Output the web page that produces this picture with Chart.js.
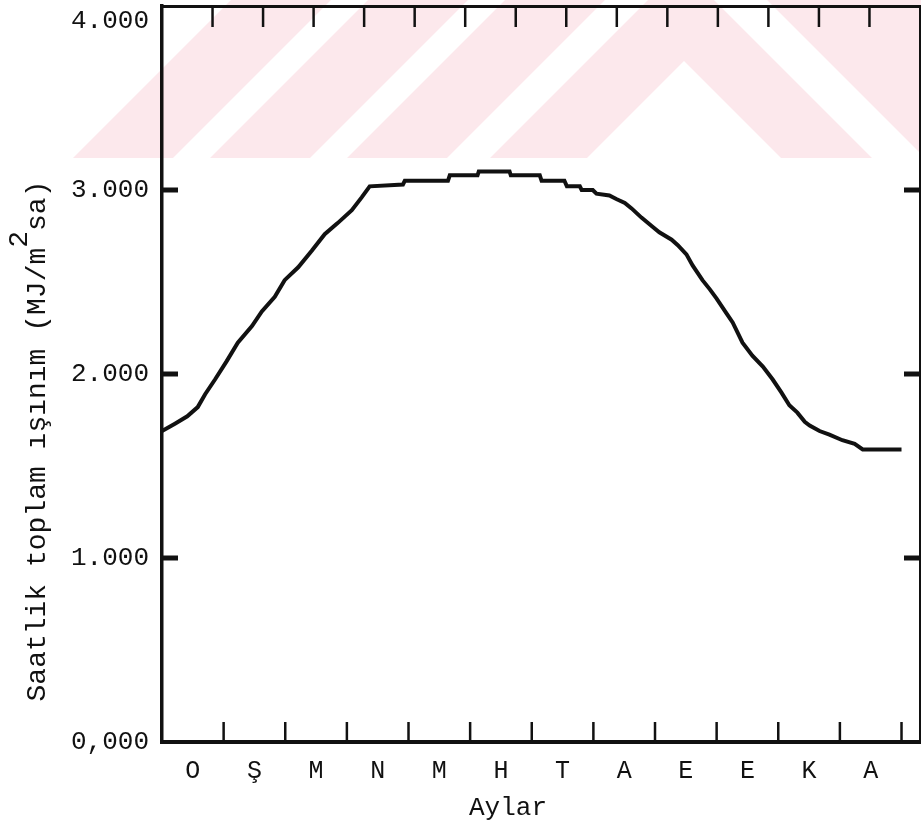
<!DOCTYPE html>
<html lang="tr">
<head>
<meta charset="UTF-8">
<title>Saatlik toplam ışınım</title>
<script src="https://cdn.jsdelivr.net/npm/chart.js"></script>
<style>
  html, body { margin: 0; padding: 0; background: #fff; }
  #wrap { width: 921px; height: 825px; }
</style>
</head>
<body>
<div id="wrap"><canvas id="radChart" width="921" height="825"></canvas></div>
<script>
// positions along the year in months (0 = start of O) and values
const monthPos = [0.00, 0.21, 0.41, 0.58, 0.70, 0.86, 1.05, 1.23, 1.46, 1.62, 1.83, 1.99,
                  2.21, 2.43, 2.64, 2.85, 3.08, 3.24, 3.37, 3.91, 3.94, 4.64, 4.67, 5.12,
                  5.14, 5.64, 5.66, 6.13, 6.16, 6.53, 6.57, 6.78, 6.81, 6.99, 7.05, 7.26,
                  7.38, 7.51, 7.62, 7.78, 7.96, 8.07, 8.27, 8.37, 8.51, 8.61, 8.77, 8.89,
                  9.00, 9.16, 9.26, 9.42, 9.58, 9.75, 9.91, 10.05, 10.18, 10.31, 10.43, 10.51,
                  10.67, 10.83, 11.04, 11.24, 11.37, 12.00];
const irradiance = [1.69, 1.73, 1.77, 1.82, 1.89, 1.97, 2.07, 2.17, 2.26, 2.34, 2.42, 2.51,
                    2.58, 2.67, 2.76, 2.82, 2.89, 2.96, 3.02, 3.03, 3.05, 3.05, 3.08, 3.08,
                    3.10, 3.10, 3.08, 3.08, 3.05, 3.05, 3.02, 3.02, 3.00, 3.00, 2.98, 2.97,
                    2.95, 2.93, 2.90, 2.85, 2.80, 2.77, 2.73, 2.70, 2.65, 2.59, 2.51, 2.46,
                    2.41, 2.33, 2.28, 2.17, 2.10, 2.04, 1.97, 1.90, 1.83, 1.79, 1.74, 1.72,
                    1.69, 1.67, 1.64, 1.62, 1.59, 1.59];
const monthLabels = ['O', 'Ş', 'M', 'N', 'M', 'H', 'T', 'A', 'E', 'E', 'K', 'A'];
const yTickLabels = ['0,000', '1.000', '2.000', '3.000', '4.000'];
const xTitle = 'Aylar';
const yTitle = 'Saatlik toplam ışınım (MJ/m²sa)';

const MONO = '"Liberation Mono", "DejaVu Sans Mono", monospace';
const INK = '#111';

// pale thesis watermark + inward tick marks + axis titles
const paperPlugin = {
    id: 'paper',
    beforeDraw(chart) {
        const ctx = chart.ctx;
        const poly = (pts, color) => {
            ctx.fillStyle = color;
            ctx.beginPath();
            pts.forEach(([x, y], i) => i ? ctx.lineTo(x, y) : ctx.moveTo(x, y));
            ctx.closePath();
            ctx.fill();
        };
        ctx.save();
        poly([[73, 158], [231, 0], [921, 0], [921, 158]], '#fce8ec');
        poly([[173, 158], [210, 158], [368, 0], [331, 0]], '#fff');
        poly([[310, 158], [347, 158], [505, 0], [468, 0]], '#fff');
        poly([[447, 158], [490, 158], [648, 0], [605, 0]], '#fff');
        poly([[587, 158], [684, 61], [781, 158]], '#fff');
        poly([[872, 158], [925, 158], [767, 0], [714, 0]], '#fff');
        ctx.restore();
    },
    afterDraw(chart) {
        const { ctx, chartArea: a, scales } = chart;
        const line = (x1, y1, x2, y2) => {
            ctx.beginPath();
            ctx.moveTo(x1, y1);
            ctx.lineTo(x2, y2);
            ctx.stroke();
        };
        ctx.save();
        ctx.strokeStyle = INK;
        ctx.lineWidth = 2.5;
        for (let i = 1; i <= monthLabels.length; i++) {
            const px = scales.x.getPixelForValue(i);
            line(px, a.bottom, px, a.bottom - 20);
        }
        for (let i = 1; i < 15; i++) {
            const px = scales.xTop.getPixelForValue(i);
            line(px, a.top, px, a.top + 21);
        }
        ctx.lineWidth = 5;
        for (let v = 1; v < yTickLabels.length - 1; v++) {
            const py = scales.y.getPixelForValue(v);
            line(a.left, py, a.left + 16, py);
            line(a.right, py, a.right - 16, py);
        }

        ctx.fillStyle = INK;
        ctx.font = '26px ' + MONO;
        ctx.textAlign = 'center';
        ctx.textBaseline = 'middle';
        ctx.fillText(xTitle, 508, 808);

        // y title, with the 2 raised like on the typewriter
        const [head, tail] = yTitle.split('²');
        ctx.translate(38, 441);
        ctx.rotate(-Math.PI / 2);
        ctx.font = '28px ' + MONO;
        ctx.textAlign = 'left';
        const wHead = ctx.measureText(head).width;
        const wSup = ctx.measureText('2').width;
        const wTail = ctx.measureText(tail).width;
        let x0 = -(wHead + wSup + wTail) / 2;
        ctx.fillText(head, x0, 0);
        ctx.fillText('2', x0 + wHead, -18);
        ctx.fillText(tail, x0 + wHead + wSup, 0);
        ctx.restore();
    }
};

const ctx = document.getElementById('radChart').getContext('2d');
new Chart(ctx, {
    type: 'scatter',
    data: {
        datasets: [{
            label: yTitle,
            data: monthPos.map((m, i) => ({ x: m, y: irradiance[i] })),
            showLine: true,
            borderColor: INK,
            borderWidth: 4,
            pointRadius: 0,
            tension: 0
        }]
    },
    options: {
        responsive: false,
        animation: false,
        layout: { padding: 0, autoPadding: false },
        plugins: { legend: { display: false }, tooltip: { enabled: false } },
        scales: {
            x: {
                type: 'linear',
                position: 'bottom',
                min: 0,
                max: 12.3,
                afterBuildTicks: s => { s.ticks = monthLabels.map((_, i) => ({ value: i + 0.5 })); },
                afterFit: s => { s.height = 83; s.paddingLeft = 0; s.paddingRight = 0; },
                ticks: {
                    autoSkip: false,
                    maxRotation: 0,
                    padding: 14,
                    color: INK,
                    font: { family: MONO, size: 25 },
                    callback: (v, i) => monthLabels[i]
                },
                grid: { display: false, drawTicks: false },
                border: { display: true, color: INK, width: 4 }
            },
            xTop: {
                type: 'linear',
                position: 'top',
                min: 0,
                max: 15,
                afterFit: s => { s.height = 6; },
                ticks: { display: false },
                grid: { display: false, drawTicks: false },
                border: { display: true, color: INK, width: 3 }
            },
            y: {
                type: 'linear',
                position: 'left',
                min: 0,
                max: 4,
                afterBuildTicks: s => { s.ticks = yTickLabels.map((_, i) => ({ value: i })); },
                // keep the frame where the original has it; labels may stick out
                afterFit: s => { s.width = 162; s.paddingTop = 0; s.paddingBottom = 0; },
                ticks: {
                    padding: 13,
                    color: INK,
                    font: { family: MONO, size: 26 },
                    callback: (v, i) => i === yTickLabels.length - 1 ? ['', yTickLabels[i]] : yTickLabels[i]
                },
                grid: { display: false, drawTicks: false },
                border: { display: true, color: INK, width: 3.5 }
            },
            yRight: {
                type: 'linear',
                position: 'right',
                min: 0,
                max: 4,
                afterFit: s => { s.width = 1; },
                ticks: { display: false },
                grid: { display: false, drawTicks: false },
                border: { display: true, color: INK, width: 3 }
            }
        }
    },
    plugins: [paperPlugin]
});
</script>
</body>
</html>
